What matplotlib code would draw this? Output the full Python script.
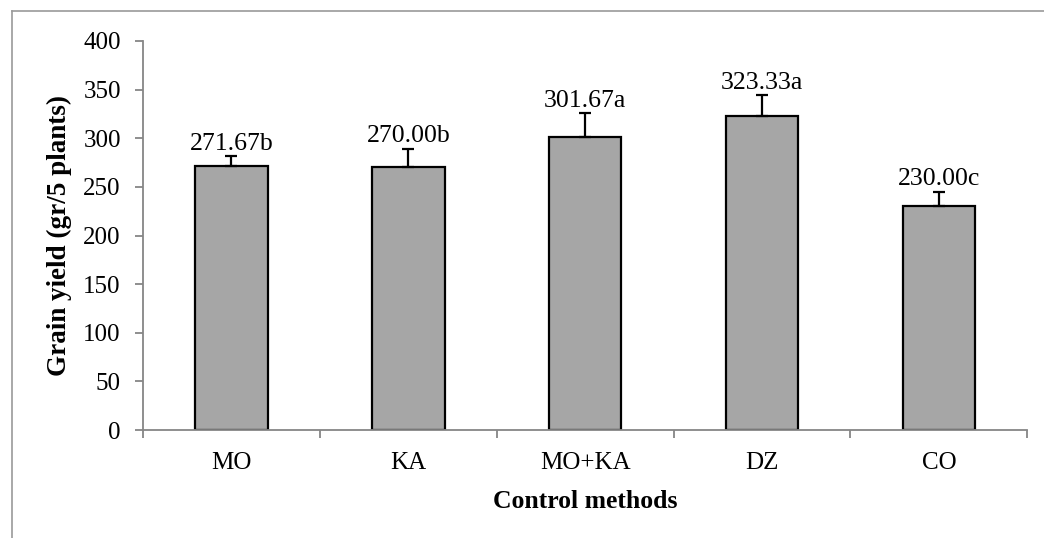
import matplotlib.pyplot as plt
from matplotlib.lines import Line2D
import numpy as np

# Grain yield per control method (mean, error, significance letter)
methods = ['MO', 'KA', 'MO+KA', 'DZ', 'CO']
yield_mean = [271.67, 270.00, 301.67, 323.33, 230.00]
yield_err = [10, 19, 24, 21, 15]
letters = ['b', 'b', 'a', 'a', 'c']

plt.rcParams['font.family'] = ['Liberation Serif', 'DejaVu Serif']

fig = plt.figure(figsize=(10.44, 5.38), dpi=100)
ax = fig.add_axes([0.137, 0.2007, 0.847, 0.7231])

x = np.arange(len(methods))
ax.bar(x, yield_mean, width=0.41, color='#a6a6a6', edgecolor='black', linewidth=1.6,
       yerr=[np.zeros(len(x)), yield_err],
       error_kw=dict(ecolor='black', elinewidth=1.6, capsize=4.5, capthick=1.6))

# value labels above the error bars
for i, (m, e, l) in enumerate(zip(yield_mean, yield_err, letters)):
    ax.text(x[i], m + e + 1.5, '%.2f%s' % (m, l), ha='center', va='bottom', fontsize=18.5)

ax.set_xlim(-0.5, len(methods) - 0.5)
ax.set_ylim(0, 400)
ax.set_yticks(np.arange(0, 401, 50))
ax.set_xticks(x)
ax.set_xticklabels(methods)
ax.set_xticks(np.arange(-0.5, len(methods)), minor=True)

for side in ['top', 'right']:
    ax.spines[side].set_visible(False)
for side in ['left', 'bottom']:
    ax.spines[side].set_color('#868686')
    ax.spines[side].set_linewidth(1.3)

ax.tick_params(axis='y', direction='out', length=6, color='#868686', width=1.3, labelsize=18, pad=10)
ax.tick_params(axis='x', which='major', length=0, labelsize=18, pad=16)
ax.tick_params(axis='x', which='minor', direction='out', length=6, color='#868686', width=1.3)

ax.set_ylabel('Grain yield (gr/5 plants)', fontsize=19.5, fontweight='bold', labelpad=8)
ax.set_xlabel('Control methods', fontsize=18.5, fontweight='bold', labelpad=11)

# outer chart frame (left and top edges visible)
fig.add_artist(Line2D([12 / 1044, 12 / 1044], [0, 1 - 11 / 538], color='#9a9a9a', linewidth=1.2))
fig.add_artist(Line2D([12 / 1044, 1], [1 - 11 / 538, 1 - 11 / 538], color='#9a9a9a', linewidth=1.2))

fig.savefig('out.png', dpi=100)
